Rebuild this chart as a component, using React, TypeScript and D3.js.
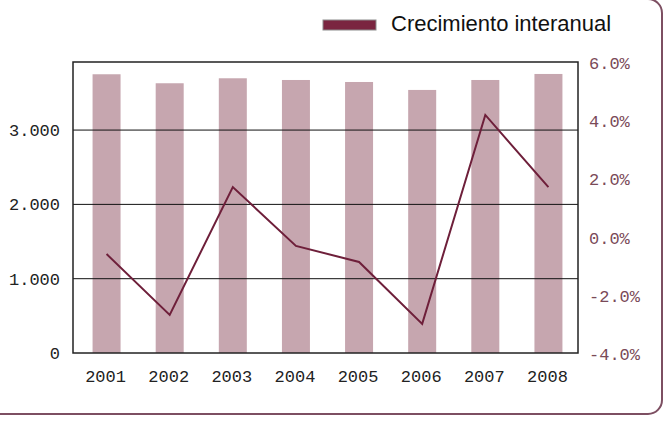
import React from 'react';
import * as d3 from 'd3';

// data
const years = ['2001', '2002', '2003', '2004', '2005', '2006', '2007', '2008'];
const totals = [3751, 3630, 3697, 3674, 3647, 3540, 3674, 3755];
const growth = [-0.6, -2.69, 1.7, -0.32, -0.87, -3.0, 4.18, 1.7];
const leftTicks = [0, 1000, 2000, 3000];
const rightTicks = [-4, -2, 0, 2, 4, 6];
const legendLabel = 'Crecimiento interanual';

const W = 664;
const H = 422;
const plot = { left: 73, right: 578, top: 62, bottom: 353 };

const barColor = '#c6a6af';
const lineColor = '#6e1f3a';
const monoFont = '"Liberation Mono", "DejaVu Sans Mono", monospace';

const fmtLeft = (v: number) => (v === 0 ? '0' : d3.format(',')(v).replace(/,/g, '.'));
const fmtRight = (v: number) => v.toFixed(1) + '%';

export default function App() {
  const x = d3.scaleBand<string>().domain(years).range([plot.left, plot.right]);
  const cx = (y: string) => (x(y) as number) + x.bandwidth() / 2 + 2;
  const yL = d3.scaleLinear().domain([0, 3916]).range([plot.bottom, plot.top]);
  const yR = d3.scaleLinear().domain([-4, 6]).range([plot.bottom, plot.top]);
  const barW = 28;

  const line = d3
    .line<number>()
    .x((_, i) => cx(years[i]))
    .y((d) => yR(d));

  return (
    <svg width={W} height={H} style={{ position: 'absolute', left: 0, top: 0 }}>
      <rect x={0} y={0} width={W} height={H} fill="#fff" />
      {/* outer frame, cut off on the left and top */}
      <rect x={-20} y={-1} width={682} height={415} rx={14} fill="none" stroke="#7d4f62" strokeWidth={2} />

      {/* legend */}
      <rect x={323} y={20} width={53} height={10} fill="#7a2540" stroke="#8c8c8c" strokeWidth={1} />
      <text x={391} y={31} fontFamily='"Liberation Sans", Arial, sans-serif' fontSize={22} fill="#111">
        {legendLabel}
      </text>

      {/* bars */}
      {totals.map((v, i) => (
        <rect
          key={years[i]}
          x={cx(years[i]) - barW / 2}
          y={yL(v)}
          width={barW}
          height={plot.bottom - yL(v)}
          fill={barColor}
        />
      ))}

      {/* gridlines */}
      {leftTicks.slice(1).map((t) => (
        <line key={t} x1={plot.left} x2={plot.right} y1={yL(t)} y2={yL(t)} stroke="#111" strokeWidth={1} />
      ))}

      <path d={line(growth) || ''} fill="none" stroke={lineColor} strokeWidth={2} />

      <rect
        x={plot.left}
        y={plot.top}
        width={plot.right - plot.left}
        height={plot.bottom - plot.top}
        fill="none"
        stroke="#222"
        strokeWidth={1.5}
      />

      {/* left axis labels */}
      {leftTicks.map((t) => (
        <text key={t} x={60} y={yL(t) + 6} textAnchor="end" fontFamily={monoFont} fontSize={17} fill="#222">
          {fmtLeft(t)}
        </text>
      ))}

      {/* right axis labels */}
      {rightTicks.map((t) => (
        <text key={t} x={589} y={yR(t) + 7} fontFamily={monoFont} fontSize={17} fill="#7a4a58">
          {fmtRight(t)}
        </text>
      ))}

      {/* year labels */}
      {years.map((y) => (
        <text key={y} x={cx(y) - 1} y={382} textAnchor="middle" fontFamily={monoFont} fontSize={17} fill="#222">
          {y}
        </text>
      ))}
    </svg>
  );
}
